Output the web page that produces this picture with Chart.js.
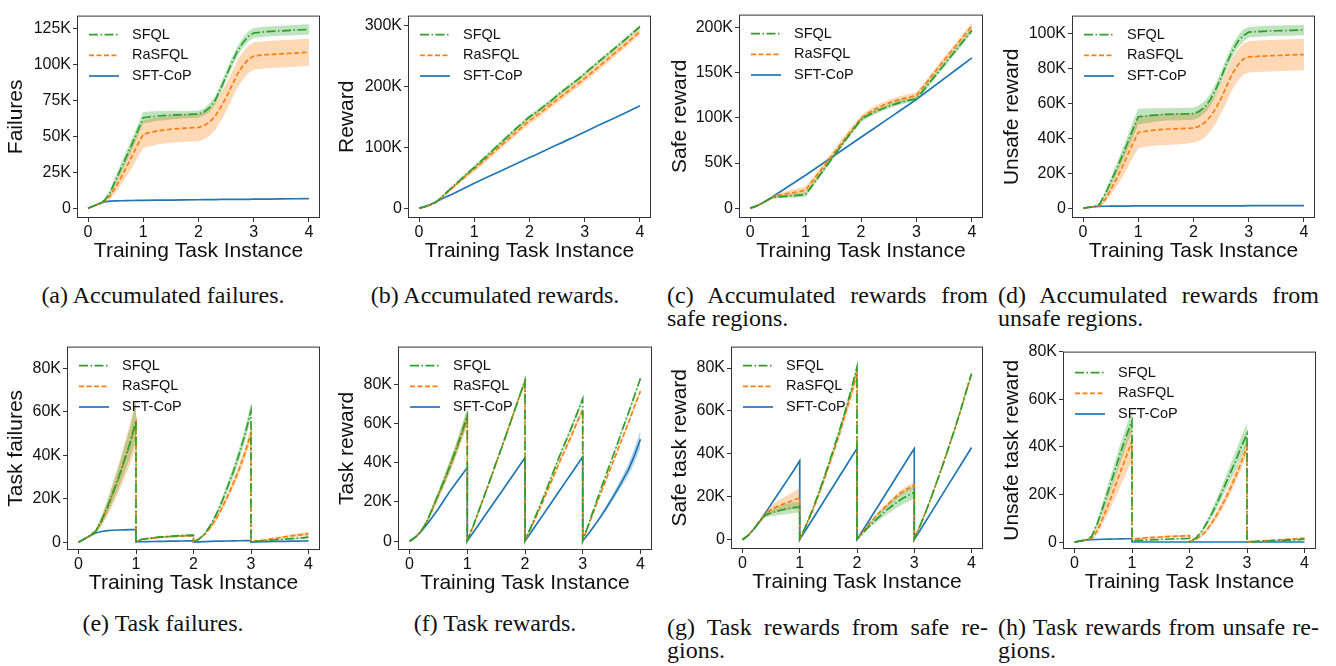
<!DOCTYPE html>
<html>
<head>
<meta charset="utf-8">
<script src="https://cdn.jsdelivr.net/npm/chart.js@4.4.1/dist/chart.umd.min.js"></script>
<style>
  body { margin: 0; background: #fff; width: 1336px; height: 666px; position: relative; overflow: hidden; }
  canvas { position: absolute; }
  .cap { position: absolute; font-family: "Liberation Serif", "Times New Roman", serif; font-size: 24px; line-height: 23px; color: #111; white-space: nowrap; }
  .just { width: 321px; text-align: justify; text-align-last: justify; }
</style>
</head>
<body>
<canvas id="ca"></canvas><canvas id="cb"></canvas><canvas id="cc"></canvas><canvas id="cd"></canvas>
<canvas id="ce"></canvas><canvas id="cf"></canvas><canvas id="cg"></canvas><canvas id="ch"></canvas>

<div class="cap" style="left:2px;top:284px;width:322px;text-align:center">(a) Accumulated failures.</div>
<div class="cap" style="left:334px;top:284px;width:322px;text-align:center">(b) Accumulated rewards.</div>
<div class="cap just" style="left:667px;top:284px">(c) Accumulated rewards from</div>
<div class="cap" style="left:667px;top:307px">safe regions.</div>
<div class="cap just" style="left:998px;top:284px">(d) Accumulated rewards from</div>
<div class="cap" style="left:998px;top:307px">unsafe regions.</div>

<div class="cap" style="left:2px;top:612px;width:322px;text-align:center">(e) Task failures.</div>
<div class="cap" style="left:334px;top:612px;width:322px;text-align:center">(f) Task rewards.</div>
<div class="cap just" style="left:667px;top:616px">(g) Task rewards from safe re-</div>
<div class="cap" style="left:667px;top:639px">gions.</div>
<div class="cap just" style="left:998px;top:616px">(h) Task rewards from unsafe re-</div>
<div class="cap" style="left:998px;top:639px">gions.</div>

<script>
// x positions (training task instance)
const X1 = [0, 0.1, 0.2, 0.3, 0.4, 0.5, 0.6, 0.7, 0.8, 0.9, 1,
  1.25, 1.5, 1.75,
  2, 2.1, 2.2, 2.3, 2.4, 2.5, 2.6, 2.7, 2.8, 2.9, 3,
  3.25, 3.5, 3.75, 4]
const X2 = [0, 0.1, 0.2, 0.3, 0.4, 0.5, 0.6, 0.7, 0.8, 0.9, 1,
  1, 1.1, 1.2, 1.3, 1.4, 1.5, 1.6, 1.7, 1.8, 1.9, 2,
  2, 2.1, 2.2, 2.3, 2.4, 2.5, 2.6, 2.7, 2.8, 2.9, 3,
  3, 3.1, 3.2, 3.3, 3.4, 3.5, 3.6, 3.7, 3.8, 3.9, 4]
const xTicks = [0, 1, 2, 3, 4]
const xTickLabels = ["0", "1", "2", "3", "4"]

// values in thousands
// (a) accumulated failures
const failSFQL = [0, 1.5, 3, 5.5, 11, 19.5, 28, 36.5, 45, 54, 63, 64.2, 64.8, 65.2, 65.5, 67, 70, 75, 83, 92, 101, 109, 115, 119.5, 122, 123, 123.5, 124, 124.5]
const failSFQLsd = [0, 0.3, 0.5, 1, 2, 3, 3.5, 4, 4, 4, 4, 3.5, 3, 2.5, 2.5, 2.5, 3, 3, 3.5, 3.5, 3.5, 3.5, 3.5, 3.5, 3.5, 3.5, 3.5, 3.5, 3.5]
const failRa = [0, 1.5, 3, 4.8, 8.5, 14.5, 21.5, 29, 36.5, 44.5, 51.5, 53.8, 55, 55.7, 56.2, 57.5, 60, 64, 70, 77, 85, 93, 99, 103.5, 106, 107, 107.5, 108, 108.7]
const failRaSd = [0, 0.3, 0.5, 1, 2, 3.5, 5, 6.5, 8, 9, 9.5, 9.5, 9.5, 9.5, 9.5, 9.5, 9.5, 9.5, 9.5, 9.5, 9.5, 9.5, 9.5, 9.5, 9.5, 9.5, 9.5, 9.5, 9.5]
const failCoP = [0, 1.5, 3.2, 4.4, 4.9, 5.1, 5.2, 5.3, 5.4, 5.5, 5.5, 5.6, 5.7, 5.8, 5.9, 6, 6, 6, 6.1, 6.1, 6.1, 6.2, 6.2, 6.2, 6.3, 6.4, 6.5, 6.6, 6.7]
const failTicks = [0, 25, 50, 75, 100, 125]
const failLabels = ["0", "25K", "50K", "75K", "100K", "125K"]

// (b) accumulated rewards
const rewSFQL = [0, 2, 5, 9.5, 17.5, 26, 34.5, 42.5, 51, 59, 67, 88, 109, 130, 150, 156, 163, 170, 177, 185, 192, 199, 206, 213, 221, 240, 259, 278, 298]
const rewSFQLsd = [0, 0.3, 0.5, 1, 1.5, 2, 2, 2.5, 2.5, 2.5, 3, 3, 3, 3, 3, 3, 3, 3, 3, 3, 3, 3, 3, 3, 3, 3, 3, 3, 3]
const rewRa = [0, 2, 5, 9, 16.5, 25, 33, 41, 49, 57, 64, 84, 104, 124, 144, 150, 157, 164, 171, 178, 185, 192, 199, 206, 213, 232, 251, 270, 290]
const rewRaSd = [0, 0.3, 0.5, 1, 1.5, 2, 2.5, 3, 3.5, 4, 4.5, 5, 5, 5.5, 6, 6, 6, 6, 6, 6, 6, 6, 6, 6, 6, 6, 6, 6, 6]
const rewCoP = [0, 2.5, 6, 10, 14.5, 19, 23, 27.5, 32, 36.5, 41, 51.5, 62, 72.5, 83, 87, 91.5, 95.5, 100, 104, 108, 112.5, 116.5, 121, 125, 136, 146.5, 157, 168]
const rewTicks = [0, 100, 200, 300]
const rewLabels = ["0", "100K", "200K", "300K"]

// (c) accumulated safe rewards
const safeSFQL = [0, 2, 5, 8.5, 11.5, 12.5, 13, 13.5, 14, 14.5, 15, 36, 57, 78, 98, 102, 105, 108, 110.5, 113, 115, 117, 118.5, 120, 121, 140, 159, 178, 197]
const safeSFQLsd = [0, 0.3, 0.5, 0.8, 1, 1.5, 2, 2, 2.5, 2.5, 2.5, 2.5, 2.5, 2.5, 2.5, 2.5, 2.5, 2.5, 2.5, 2.5, 2.5, 2.5, 2.5, 2.5, 3, 3, 3, 3, 3]
const safeRa = [0, 2, 5, 8.5, 12, 14, 15.5, 16.5, 17.5, 18.5, 20, 40, 60, 80, 99.5, 104, 108, 111, 114, 116.5, 118.5, 120.5, 122, 123.5, 125, 144.5, 164, 183, 202]
const safeRaSd = [0, 0.3, 0.5, 1, 1.5, 2, 2.5, 3, 3.5, 4, 4, 4, 4, 4, 3.5, 3.5, 3.5, 3.5, 3.5, 3.5, 3.5, 3.5, 3.5, 3.5, 3.5, 3.5, 3.5, 3.5, 3.5]
const safeCoP = [0, 2, 5, 8.5, 12.5, 16.5, 20.5, 24.5, 28.5, 32.5, 36.5, 47, 57.5, 68, 78.5, 82.7, 86.9, 91.1, 95.3, 99.5, 103.7, 107.9, 112.1, 116.3, 120.5, 132, 143.5, 155, 166.5]
const safeTicks = [0, 50, 100, 150, 200]
const safeLabels = ["0", "50K", "100K", "150K", "200K"]

// (d) accumulated unsafe rewards
const unsafeSFQL = [0, 0.5, 0.8, 2.5, 8, 15, 22, 29.5, 37, 45, 52.5, 53.3, 53.8, 54, 54.3, 55.5, 58, 62, 68, 75, 83, 90, 95.5, 99, 101, 101.5, 101.8, 102, 102.3]
const unsafeSFQLsd = [0, 0.1, 0.2, 0.5, 1.5, 2.5, 3, 3.5, 4, 4.5, 4.5, 4, 3.5, 3.5, 3.5, 3.5, 3.5, 3.5, 3.5, 3.5, 3.5, 3.5, 3.5, 3.5, 3, 3, 3, 3, 3]
const unsafeRa = [0, 0.5, 0.8, 1.5, 5, 10.5, 16.5, 23, 30, 37, 43.5, 44.7, 45.3, 45.7, 46, 47, 49, 52.5, 57, 63, 70, 77, 82, 85.5, 86.8, 87.3, 87.6, 87.9, 88.2]
const unsafeRaSd = [0, 0.1, 0.2, 0.5, 1.5, 3, 4.5, 6, 7, 8, 9, 9, 9, 9, 8.5, 8.5, 8.5, 8.5, 8.5, 8.5, 9, 9, 9, 9, 9, 9, 9, 9, 9]
const unsafeCoP = [0, 0.5, 0.9, 1.1, 1.15, 1.2, 1.2, 1.25, 1.25, 1.3, 1.3, 1.3, 1.3, 1.35, 1.35, 1.35, 1.35, 1.4, 1.4, 1.4, 1.4, 1.4, 1.4, 1.4, 1.45, 1.45, 1.45, 1.5, 1.5]
const unsafeTicks = [0, 20, 40, 60, 80, 100]
const unsafeLabels = ["0", "20K", "40K", "60K", "80K", "100K"]

// (e) task failures
const tFailSFQL = [0, 1.5, 3, 5, 10, 16, 23, 30, 38, 46, 56,
  0.3, 1.3, 1.7, 2, 2.3, 2.5, 2.7, 2.9, 3, 3.1, 3.2,
  0.2, 1.5, 4, 8, 13, 19, 26, 33, 41, 50, 60.5,
  0.2, 0.4, 0.6, 0.8, 1, 1.2, 1.4, 1.6, 1.8, 2, 2.3]
const tFailSFQLsd = [0, 0.3, 0.5, 1, 2, 3, 4, 5, 6, 7, 9,
  0.1, 0.3, 0.3, 0.4, 0.4, 0.4, 0.4, 0.5, 0.5, 0.5, 0.5,
  0, 0.3, 0.5, 0.8, 1, 1.5, 2, 2.5, 2.8, 3, 3.5,
  0, 0.1, 0.2, 0.2, 0.3, 0.3, 0.3, 0.4, 0.4, 0.4, 0.5]
const tFailRa = [0, 1.5, 3, 5, 9.5, 15.5, 22.5, 29.5, 37.5, 45.5, 55,
  0.3, 1.2, 1.6, 1.9, 2.2, 2.4, 2.6, 2.7, 2.8, 2.9, 3,
  0.2, 1.5, 3.8, 7, 11, 16, 21.5, 27.5, 34, 41.5, 50,
  0.3, 0.6, 0.9, 1.3, 1.7, 2.1, 2.5, 2.9, 3.2, 3.5, 3.8]
const tFailRaSd = [0, 0.3, 0.5, 1, 2, 3.5, 5, 6.5, 8, 9.5, 11,
  0.1, 0.3, 0.3, 0.4, 0.4, 0.4, 0.4, 0.5, 0.5, 0.5, 0.5,
  0, 0.3, 0.5, 0.8, 1, 1.3, 1.6, 2, 2.3, 2.6, 3,
  0, 0.1, 0.2, 0.3, 0.4, 0.5, 0.6, 0.7, 0.8, 0.9, 1]
const tFailCoP = [0, 1.5, 3, 4.2, 4.9, 5.3, 5.5, 5.6, 5.7, 5.75, 5.8,
  0.1, 0.2, 0.25, 0.3, 0.35, 0.4, 0.45, 0.5, 0.55, 0.6, 0.65,
  0.05, 0.15, 0.25, 0.35, 0.45, 0.5, 0.55, 0.6, 0.65, 0.7, 0.75,
  0.05, 0.15, 0.2, 0.25, 0.3, 0.35, 0.4, 0.45, 0.5, 0.55, 0.6]
const tFailTicks = [0, 20, 40, 60, 80]
const tFailLabels = ["0", "20K", "40K", "60K", "80K"]

// (f) task rewards
const tRewSFQL = [0, 2, 5, 10, 17, 24, 31, 38.5, 46.5, 55, 64,
  0.3, 7.5, 15.5, 23.5, 31.5, 40, 48, 56.5, 65, 73.5, 82,
  0.3, 7, 14, 21, 28.5, 36, 43.5, 50.5, 57.5, 65, 72.5,
  0.3, 8.5, 17, 25.5, 33.5, 41.5, 49.5, 58, 66, 74.5, 83]
const tRewSFQLsd = [0, 0.3, 0.5, 1, 1.5, 2, 2.5, 3, 3, 3.5, 4,
  0, 0.3, 0.5, 0.5, 0.7, 0.8, 0.8, 0.9, 1, 1, 1.2,
  0, 0.3, 0.5, 0.7, 0.8, 1, 1, 1.2, 1.3, 1.5, 1.5,
  0, 0.3, 0.5, 0.5, 0.6, 0.7, 0.8, 0.9, 1, 1, 1]
const tRewRa = [0, 2, 5, 10, 16.5, 23.5, 30.5, 38, 45.5, 54, 63,
  0.3, 7.5, 15.5, 23.5, 31.5, 40, 48, 56.5, 65, 73.5, 81.5,
  0.3, 6.5, 13, 19.5, 26.5, 33.5, 40.5, 47, 53.5, 60.5, 67,
  0.3, 8, 16, 23.5, 31, 38.5, 46, 53.5, 61, 69, 76.5]
const tRewRaSd = [0, 0.3, 0.5, 1, 1.5, 2, 2.5, 3, 3, 3.5, 4,
  0, 0.3, 0.5, 0.5, 0.7, 0.8, 0.8, 0.9, 1, 1, 1.2,
  0, 0.3, 0.5, 0.7, 0.8, 1, 1, 1.2, 1.3, 1.5, 1.5,
  0, 0.3, 0.5, 0.5, 0.6, 0.7, 0.8, 0.9, 1, 1, 1]
const tRewCoP = [0, 2, 5, 8.5, 12.5, 16.5, 21, 25.5, 29.5, 33.5, 37.5,
  0.2, 4.3, 8.5, 12.8, 17, 21.3, 25.5, 29.8, 34, 38.3, 42.5,
  0.2, 4.3, 8.6, 12.9, 17.2, 21.5, 25.8, 30.1, 34.4, 38.7, 43,
  0.2, 3.8, 7.8, 12, 16.5, 21.3, 26.3, 31.5, 37, 44, 52]
const tRewCoPsd = [0, 0.2, 0.2, 0.3, 0.3, 0.3, 0.3, 0.3, 0.3, 0.3, 0.3,
  0, 0.2, 0.2, 0.3, 0.3, 0.3, 0.3, 0.3, 0.3, 0.3, 0.3,
  0, 0.2, 0.2, 0.3, 0.3, 0.3, 0.3, 0.3, 0.3, 0.3, 0.3,
  0, 0.3, 0.5, 0.8, 1.2, 1.6, 2, 2.5, 3, 3.7, 4.5]
const tRewTicks = [0, 20, 40, 60, 80]
const tRewLabels = ["0", "20K", "40K", "60K", "80K"]

// (g) safe task rewards
const tSafeSFQL = [0, 2, 5, 8.5, 11.5, 12.5, 13.3, 14, 14.5, 15, 15.2,
  0.3, 6, 12.5, 19.5, 27, 35, 43, 51.5, 60.5, 70, 80.5,
  0.3, 3, 6, 8.5, 11, 13.5, 15.5, 17.5, 19.3, 20.8, 22,
  0.3, 6.5, 13, 20, 27.5, 35, 43, 51, 59.5, 68.5, 77.5]
const tSafeSFQLsd = [0, 0.3, 0.5, 0.7, 1, 1.5, 2, 2.2, 2.5, 2.5, 2.5,
  0, 0.5, 0.7, 0.8, 1, 1, 1, 1, 1, 1, 1,
  0, 0.5, 1, 1.3, 1.7, 2, 2.3, 2.5, 2.8, 3, 3,
  0, 0.3, 0.4, 0.5, 0.5, 0.6, 0.6, 0.7, 0.7, 0.8, 0.8]
const tSafeRa = [0, 2, 5, 8.5, 12, 14, 15.5, 16.5, 17.5, 18.5, 19.5,
  0.3, 5.8, 12, 18.8, 26, 33.8, 41.8, 50, 59, 68, 77.5,
  0.3, 3.5, 7, 10, 13, 15.5, 18, 20.5, 22.5, 24, 25.5,
  0.3, 6.5, 13, 20, 27.5, 35, 43, 51, 59.5, 68.5, 77.5]
const tSafeRaSd = [0, 0.3, 0.5, 0.8, 1.2, 2, 2.5, 3, 3.5, 4, 4.5,
  0, 0.5, 0.8, 1, 1.3, 1.5, 1.8, 2, 2.3, 2.5, 3,
  0, 0.3, 0.5, 0.7, 0.9, 1, 1.2, 1.3, 1.4, 1.5, 1.5,
  0, 0.3, 0.4, 0.5, 0.5, 0.6, 0.6, 0.7, 0.7, 0.8, 0.8]
const tSafeCoP = [0, 2, 5, 8.5, 12.5, 16.5, 20.5, 24.5, 28.5, 32.5, 36.8,
  0.2, 4.3, 8.5, 12.8, 17, 21.3, 25.5, 29.8, 34, 38.3, 42.5,
  0.2, 4.3, 8.5, 12.8, 17, 21.3, 25.5, 29.8, 34, 38.3, 42.5,
  0.2, 4.3, 8.6, 12.9, 17.2, 21.5, 25.8, 30.1, 34.4, 38.7, 43]
const tSafeTicks = [0, 20, 40, 60, 80]
const tSafeLabels = ["0", "20K", "40K", "60K", "80K"]

// (h) unsafe task rewards
const tUnsafeSFQL = [0, 0.5, 0.9, 2.5, 8, 15, 22.5, 30, 37.5, 44.5, 51,
  0.5, 0.7, 0.8, 0.9, 1, 1.1, 1.2, 1.3, 1.4, 1.45, 1.5,
  0.2, 1.5, 4, 8, 12.5, 17.5, 23, 28.5, 34, 40, 45.5,
  0.1, 0.2, 0.3, 0.4, 0.5, 0.6, 0.7, 0.8, 0.9, 1, 1.2]
const tUnsafeSFQLsd = [0, 0.1, 0.2, 0.5, 1.5, 2.5, 3, 3.5, 4, 4.2, 4.5,
  0.2, 0.2, 0.2, 0.2, 0.2, 0.2, 0.2, 0.2, 0.2, 0.2, 0.2,
  0, 0.3, 0.7, 1.2, 1.8, 2.3, 2.8, 3.3, 3.8, 4.2, 4.5,
  0, 0.1, 0.1, 0.1, 0.2, 0.2, 0.2, 0.2, 0.2, 0.3, 0.3]
const tUnsafeRa = [0, 0.5, 0.9, 1.5, 5, 10.5, 16.5, 23, 29.5, 36, 42.5,
  1.2, 1.5, 1.7, 1.9, 2, 2.1, 2.3, 2.4, 2.5, 2.6, 2.7,
  0.2, 1, 2.5, 5, 8.5, 12.5, 17, 22, 27.5, 33.5, 40,
  0.1, 0.3, 0.4, 0.6, 0.7, 0.9, 1, 1.2, 1.3, 1.5, 1.6]
const tUnsafeRaSd = [0, 0.1, 0.2, 0.5, 1.5, 2.5, 3.5, 5, 6, 7, 8,
  0.3, 0.3, 0.4, 0.4, 0.4, 0.5, 0.5, 0.5, 0.5, 0.5, 0.5,
  0, 0.2, 0.5, 0.8, 1.2, 1.6, 2, 2.3, 2.6, 2.8, 3,
  0, 0.1, 0.1, 0.2, 0.2, 0.2, 0.2, 0.3, 0.3, 0.3, 0.3]
const tUnsafeCoP = [0, 0.4, 0.8, 1, 1.1, 1.2, 1.25, 1.3, 1.35, 1.4, 1.4,
  0.05, 0.05, 0.05, 0.05, 0.05, 0.05, 0.05, 0.05, 0.05, 0.05, 0.05,
  0.05, 0.05, 0.05, 0.05, 0.05, 0.05, 0.05, 0.05, 0.05, 0.05, 0.05,
  0.05, 0.05, 0.05, 0.05, 0.05, 0.05, 0.05, 0.05, 0.05, 0.05, 0.05]
const tUnsafeTicks = [0, 20, 40, 60, 80]
const tUnsafeLabels = ["0", "20K", "40K", "60K", "80K"]

const methods = ["SFQL", "RaSFQL", "SFT-CoP"]
const lineColors = ["#2ca02c", "#ff7f0e", "#1f77b4"]
const bandColors = ["rgba(44,160,44,0.3)", "rgba(255,127,14,0.3)", "rgba(31,119,180,0.3)"]
const dashes = [[9, 2.5, 1.5, 2.5], [5, 2.5], []]

Chart.defaults.font.family = '"Liberation Sans", Arial, Helvetica, sans-serif'
Chart.defaults.color = "#111"

const TOP_PAD = 8
const X_AXIS_H = 50
const RIGHT_PAD = 10

// box drawn round the plot area plus the in-plot legend
const framePlugin = {
  id: "frameAndLegend",
  afterDraw(chart) {
    const { ctx, chartArea: a } = chart
    const legTop = chart.options.plugins.frameAndLegend.legendTop
    ctx.save()
    ctx.strokeStyle = "#333"
    ctx.lineWidth = 1
    ctx.strokeRect(a.left + 0.5, a.top + 0.5, a.right - a.left - 1, a.bottom - a.top - 1)
    ctx.font = '14.5px "Liberation Sans", Arial, sans-serif'
    ctx.textBaseline = "middle"
    methods.forEach((m, i) => {
      const y = a.top + legTop + i * 20.7
      ctx.strokeStyle = lineColors[i]
      ctx.lineWidth = 1.7
      ctx.setLineDash(dashes[i])
      ctx.beginPath()
      ctx.moveTo(a.left + 12, y)
      ctx.lineTo(a.left + 42, y)
      ctx.stroke()
      ctx.setLineDash([])
      ctx.fillStyle = "#111"
      ctx.fillText(m, a.left + 55, y)
    })
    ctx.restore()
  },
}

function makeChart(id, cfg) {
  const [bl, bt, bw, bh] = cfg.box
  const canvas = document.getElementById(id)
  canvas.width = cfg.yw + bw + RIGHT_PAD
  canvas.height = TOP_PAD + bh + X_AXIS_H
  canvas.style.left = bl - cfg.yw + "px"
  canvas.style.top = bt - TOP_PAD + "px"

  const datasets = []
  cfg.series.forEach((s, i) => {
    if (s.sd) {
      datasets.push({
        data: cfg.xs.map((x, k) => ({ x, y: s.mean[k] - s.sd[k] })),
        borderColor: "rgba(0,0,0,0)", borderWidth: 0, pointRadius: 0, fill: false,
      })
      datasets.push({
        data: cfg.xs.map((x, k) => ({ x, y: s.mean[k] + s.sd[k] })),
        borderColor: "rgba(0,0,0,0)", borderWidth: 0, pointRadius: 0,
        fill: "-1", backgroundColor: bandColors[i],
      })
    }
    datasets.push({
      label: methods[i],
      data: cfg.xs.map((x, k) => ({ x, y: s.mean[k] })),
      borderColor: lineColors[i], borderWidth: 1.7, borderDash: dashes[i],
      pointRadius: 0, fill: false, tension: 0,
    })
  })

  new Chart(canvas, {
    type: "line",
    data: { datasets },
    plugins: [framePlugin],
    options: {
      responsive: false,
      animation: false,
      devicePixelRatio: 1,
      layout: { padding: { left: 0, right: RIGHT_PAD, top: TOP_PAD, bottom: 0 } },
      plugins: {
        legend: { display: false },
        tooltip: { enabled: false },
        frameAndLegend: { legendTop: cfg.legendTop || 19 },
      },
      scales: {
        x: {
          type: "linear", min: -0.2, max: 4.2,
          afterBuildTicks: (s) => { s.ticks = xTicks.map((v) => ({ value: v })) },
          afterFit: (s) => { s.height = X_AXIS_H },
          grid: { drawOnChartArea: false, drawTicks: true, tickLength: 4, color: "#333" },
          border: { display: false },
          ticks: { padding: 1, maxRotation: 0, autoSkip: false, font: { size: 16 }, callback: (v, i) => xTickLabels[i] },
          title: { display: true, text: "Training Task Instance", font: { size: 21 }, padding: { top: 0, bottom: 4 } },
        },
        y: {
          type: "linear", min: cfg.yMin, max: cfg.yMax,
          afterBuildTicks: (s) => { s.ticks = cfg.yTicks.map((v) => ({ value: v })) },
          afterFit: (s) => { s.width = cfg.yw },
          grid: { drawOnChartArea: false, drawTicks: true, tickLength: 4, color: "#333" },
          border: { display: false },
          ticks: { padding: 2, autoSkip: false, font: { size: 16 }, callback: (v, i) => cfg.yLabels[i] },
          title: { display: true, text: cfg.yTitle, font: { size: 21 }, padding: { top: 3, bottom: 0 } },
        },
      },
    },
  })
}

makeChart("ca", {
  box: [77, 12, 243, 206], yw: 76, yMin: -6.8, yMax: 134.1,
  yTicks: failTicks, yLabels: failLabels, yTitle: "Failures", xs: X1,
  series: [{ mean: failSFQL, sd: failSFQLsd }, { mean: failRa, sd: failRaSd }, { mean: failCoP }],
})
makeChart("cb", {
  box: [408, 12, 243, 206], yw: 76, yMin: -16.1, yMax: 316,
  yTicks: rewTicks, yLabels: rewLabels, yTitle: "Reward", xs: X1,
  series: [{ mean: rewSFQL, sd: rewSFQLsd }, { mean: rewRa, sd: rewRaSd }, { mean: rewCoP }],
})
makeChart("cc", {
  box: [739, 11, 244, 207], yw: 74, yMin: -10.9, yMax: 214.5,
  yTicks: safeTicks, yLabels: safeLabels, yTitle: "Safe reward", xs: X1,
  series: [{ mean: safeSFQL, sd: safeSFQLsd }, { mean: safeRa, sd: safeRaSd }, { mean: safeCoP }],
})
makeChart("cd", {
  box: [1072, 12, 243, 206], yw: 75, yMin: -5.6, yMax: 110.5,
  yTicks: unsafeTicks, yLabels: unsafeLabels, yTitle: "Unsafe reward", xs: X1,
  series: [{ mean: unsafeSFQL, sd: unsafeSFQLsd }, { mean: unsafeRa, sd: unsafeRaSd }, { mean: unsafeCoP }],
})
makeChart("ce", {
  box: [67, 343, 253, 207], yw: 66, yMin: -3.6, yMax: 90,
  yTicks: tFailTicks, yLabels: tFailLabels, yTitle: "Task failures", xs: X2,
  series: [{ mean: tFailSFQL, sd: tFailSFQLsd }, { mean: tFailRa, sd: tFailRaSd }, { mean: tFailCoP }],
})
makeChart("cf", {
  box: [398, 343, 254, 207], yw: 66, yMin: -4.5, yMax: 99.2,
  yTicks: tRewTicks, yLabels: tRewLabels, yTitle: "Task reward", xs: X2,
  series: [{ mean: tRewSFQL, sd: tRewSFQLsd }, { mean: tRewRa, sd: tRewRaSd }, { mean: tRewCoP, sd: tRewCoPsd }],
})
makeChart("cg", {
  box: [731, 343, 252, 206], yw: 66, yMin: -4.3, yMax: 90,
  yTicks: tSafeTicks, yLabels: tSafeLabels, yTitle: "Safe task reward", xs: X2,
  series: [{ mean: tSafeSFQL, sd: tSafeSFQLsd }, { mean: tSafeRa, sd: tSafeRaSd }, { mean: tSafeCoP }],
})
makeChart("ch", {
  box: [1063, 348, 253, 201], yw: 66, yMin: -2.9, yMax: 80, legendTop: 21,
  yTicks: tUnsafeTicks, yLabels: tUnsafeLabels, yTitle: "Unsafe task reward", xs: X2,
  series: [{ mean: tUnsafeSFQL, sd: tUnsafeSFQLsd }, { mean: tUnsafeRa, sd: tUnsafeRaSd }, { mean: tUnsafeCoP }],
})
</script>
</body>
</html>
